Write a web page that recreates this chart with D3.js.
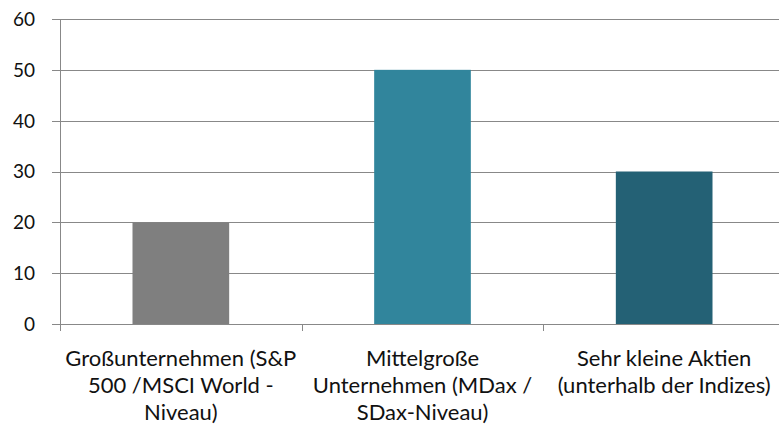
<!DOCTYPE html>
<html>
<head>
<meta charset="utf-8">
<script src="https://cdn.jsdelivr.net/npm/d3@7"></script>
<style>
	body { margin: 0; background: #fff; }
	svg text { font-family: Lato, "Open Sans", sans-serif; fill: #111; }
</style>
</head>
<body>
<div id="chart"></div>
<script>
// chart data
const categories = [
	["Großunternehmen (S&P", "500 /MSCI World -", "Niveau)"],
	["Mittelgroße", "Unternehmen (MDax /", "SDax-Niveau)"],
	["Sehr kleine Aktien", "(unterhalb der Indizes)"]
];
const values = [20, 50, 30];
const colors = ["#7f7f7f", "#31859c", "#246175"];
const yTicks = [0, 10, 20, 30, 40, 50, 60];

class BarChart {
	constructor(elem) {
		this.width = 779;
		this.height = 426;
		this.margin = { top: 19, right: -6, bottom: 102, left: 60 };
		this.svg = d3.select(elem).append('svg')
			.attr('width', this.width)
			.attr('height', this.height);
		this.draw();
	}

	draw() {
		let m = this.margin;
		let x = d3.scaleBand()
			.domain(d3.range(categories.length))
			.range([m.left, this.width - m.right])
			.paddingInner(0.6)
			.paddingOuter(0.3);
		let y = d3.scaleLinear()
			.domain([0, 60])
			.range([this.height - m.bottom, m.top]);

		// gridlines + y labels
		let grid = this.svg.append('g');
		grid.selectAll('line')
			.data(yTicks)
			.enter()
			.append('line')
			.attr('x1', m.left - 8)
			.attr('x2', this.width)
			.attr('y1', d => Math.round(y(d)) + 0.5)
			.attr('y2', d => Math.round(y(d)) + 0.5)
			.attr('stroke', '#888')
			.attr('stroke-width', 1);

		grid.selectAll('text')
			.data(yTicks)
			.enter()
			.append('text')
			.attr('x', 35)
			.attr('y', d => y(d))
			.attr('dy', '0.36em')
			.attr('text-anchor', 'end')
			.style('font-size', '19px')
			.text(d => d);

		// y axis line
		this.svg.append('line')
			.attr('x1', m.left + 0.5)
			.attr('x2', m.left + 0.5)
			.attr('y1', y(60))
			.attr('y2', y(0))
			.attr('stroke', '#888');

		// bars
		this.svg.selectAll('.bar')
			.data(values)
			.enter()
			.append('rect')
			.attr('class', 'bar')
			.attr('x', (d, i) => x(i))
			.attr('width', x.bandwidth())
			.attr('y', d => y(d))
			.attr('height', d => y(0) - y(d))
			.attr('fill', (d, i) => colors[i]);

		// category separators below axis
		let step = x.step();
		let start = m.left;
		this.svg.selectAll('.sep')
			.data(d3.range(categories.length + 1))
			.enter()
			.append('line')
			.attr('class', 'sep')
			.attr('x1', i => Math.round(start + i * step) + 0.5)
			.attr('x2', i => Math.round(start + i * step) + 0.5)
			.attr('y1', y(0))
			.attr('y2', y(0) + 7)
			.attr('stroke', '#888');

		// category labels
		let labels = this.svg.selectAll('.cat')
			.data(categories)
			.enter()
			.append('text')
			.attr('class', 'cat')
			.attr('text-anchor', 'middle')
			.style('font-size', '22px');

		labels.selectAll('tspan')
			.data((d, i) => d.map(t => ({ t: t, i: i })))
			.enter()
			.append('tspan')
			.attr('x', d => x(d.i) + x.bandwidth() / 2)
			.attr('y', (d, j) => 366 + j * 27)
			.text(d => d.t);
	}
}

new BarChart('#chart');
</script>
</body>
</html>
